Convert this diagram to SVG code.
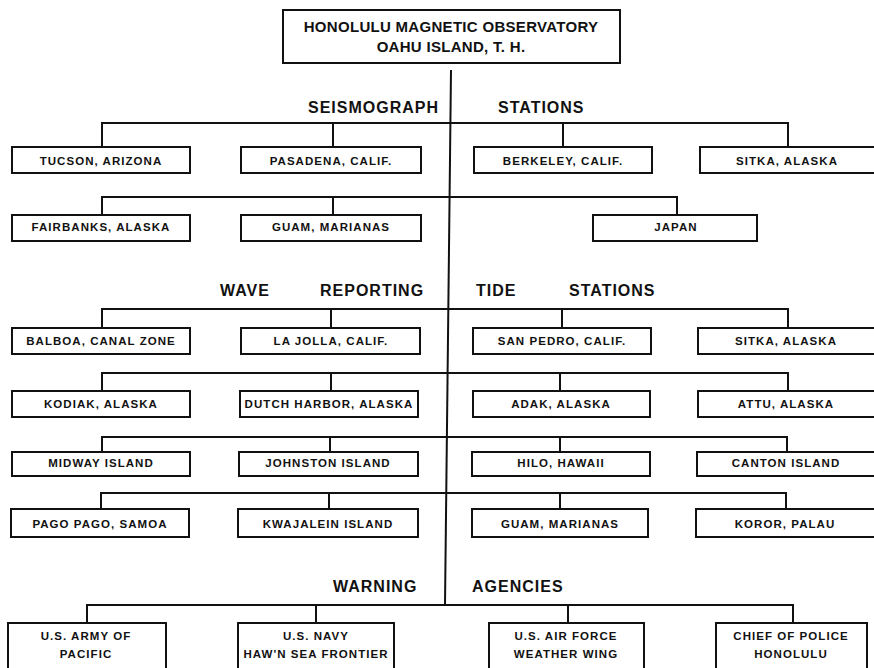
<svg xmlns="http://www.w3.org/2000/svg" width="874" height="668" viewBox="0 0 874 668">
<style>
.b{fill:#fff;stroke:#111;stroke-width:2}
.t{font-family:"Liberation Sans",Arial,sans-serif;font-weight:bold;font-size:11.5px;letter-spacing:1.05px;fill:#111;text-anchor:middle}
.h{font-family:"Liberation Sans",Arial,sans-serif;font-weight:bold;font-size:16px;letter-spacing:1px;fill:#111}
.top{font-family:"Liberation Sans",Arial,sans-serif;font-weight:bold;font-size:15px;letter-spacing:0.3px;fill:#111;text-anchor:middle}
.c{fill:none;stroke:#111;stroke-width:2}
</style>
<rect width="874" height="668" fill="#fff"/>
<g id="connectors" class="c">
<path d="M451 70 L445 605"/>
<path d="M102 147 V123 H788 V147 M333 123 V147 M563 123 V147"/>
<path d="M102 215 V197 H677 V215 M333 197 V215"/>
<path d="M102 328 V309 H788 V328 M331 309 V328 M562 309 V328"/>
<path d="M102 391 V373 H788 V391 M331 373 V391 M560 373 V391"/>
<path d="M102 452 V437 H787 V452 M330 437 V452 M560 437 V452"/>
<path d="M101 509 V493 H786 V509 M329 493 V509 M560 493 V509"/>
<path d="M87 623 V605 H793 V623 M316 605 V623 M568 605 V623"/>
</g>
<g id="headings">
<text class="h" x="308" y="113">SEISMOGRAPH</text>
<text class="h" x="498" y="113">STATIONS</text>
<text class="h" x="220" y="296">WAVE</text>
<text class="h" x="320" y="296">REPORTING</text>
<text class="h" x="476" y="296">TIDE</text>
<text class="h" x="569" y="296">STATIONS</text>
<text class="h" x="333" y="592">WARNING</text>
<text class="h" x="472" y="592">AGENCIES</text>
</g>
<g id="observatory"><rect class="b" x="283" y="10" width="337" height="53"/><text class="top" x="451" y="32">HONOLULU MAGNETIC OBSERVATORY</text><text class="top" x="451" y="52">OAHU ISLAND, T. H.</text></g>
<g id="tucson"><rect class="b" x="12" y="147" width="178" height="26"/><text class="t" x="101" y="165">TUCSON, ARIZONA</text></g>
<g id="pasadena"><rect class="b" x="241" y="147" width="180" height="26"/><text class="t" x="331" y="165">PASADENA, CALIF.</text></g>
<g id="berkeley"><rect class="b" x="474" y="147" width="178" height="26"/><text class="t" x="563" y="165">BERKELEY, CALIF.</text></g>
<g id="sitka1"><rect class="b" x="700" y="147" width="178" height="26"/><text class="t" x="787" y="165">SITKA, ALASKA</text></g>
<g id="fairbanks"><rect class="b" x="12" y="215" width="178" height="26"/><text class="t" x="101" y="231">FAIRBANKS, ALASKA</text></g>
<g id="guam1"><rect class="b" x="241" y="215" width="180" height="26"/><text class="t" x="331" y="231">GUAM, MARIANAS</text></g>
<g id="japan"><rect class="b" x="593" y="215" width="164" height="26"/><text class="t" x="676" y="231">JAPAN</text></g>
<g id="balboa"><rect class="b" x="12" y="328" width="178" height="26"/><text class="t" x="101" y="345">BALBOA, CANAL ZONE</text></g>
<g id="lajolla"><rect class="b" x="241" y="328" width="179" height="26"/><text class="t" x="331" y="345">LA JOLLA, CALIF.</text></g>
<g id="sanpedro"><rect class="b" x="473" y="328" width="178" height="26"/><text class="t" x="562" y="345">SAN PEDRO, CALIF.</text></g>
<g id="sitka2"><rect class="b" x="698" y="328" width="180" height="26"/><text class="t" x="786" y="345">SITKA, ALASKA</text></g>
<g id="kodiak"><rect class="b" x="12" y="391" width="178" height="26"/><text class="t" x="101" y="408">KODIAK, ALASKA</text></g>
<g id="dutchharbor"><rect class="b" x="240" y="391" width="178" height="26"/><text class="t" x="329" y="408">DUTCH HARBOR, ALASKA</text></g>
<g id="adak"><rect class="b" x="473" y="391" width="177" height="26"/><text class="t" x="561" y="408">ADAK, ALASKA</text></g>
<g id="attu"><rect class="b" x="698" y="391" width="180" height="26"/><text class="t" x="786" y="408">ATTU, ALASKA</text></g>
<g id="midway"><rect class="b" x="12" y="452" width="178" height="24"/><text class="t" x="101" y="467">MIDWAY ISLAND</text></g>
<g id="johnston"><rect class="b" x="239" y="452" width="179" height="24"/><text class="t" x="328" y="467">JOHNSTON ISLAND</text></g>
<g id="hilo"><rect class="b" x="472" y="452" width="178" height="24"/><text class="t" x="561" y="467">HILO, HAWAII</text></g>
<g id="canton"><rect class="b" x="697" y="452" width="181" height="24"/><text class="t" x="786" y="467">CANTON ISLAND</text></g>
<g id="pagopago"><rect class="b" x="11" y="509" width="178" height="28"/><text class="t" x="100" y="528">PAGO PAGO, SAMOA</text></g>
<g id="kwajalein"><rect class="b" x="238" y="509" width="180" height="28"/><text class="t" x="328" y="528">KWAJALEIN ISLAND</text></g>
<g id="guam2"><rect class="b" x="472" y="509" width="176" height="28"/><text class="t" x="560" y="528">GUAM, MARIANAS</text></g>
<g id="koror"><rect class="b" x="696" y="509" width="182" height="28"/><text class="t" x="785" y="528">KOROR, PALAU</text></g>
<g id="army"><rect class="b" x="8" y="623" width="158" height="50"/><text class="t" x="86" y="640">U.S. ARMY OF</text><text class="t" x="86" y="658">PACIFIC</text></g>
<g id="navy"><rect class="b" x="238" y="623" width="156" height="50"/><text class="t" x="316" y="640">U.S. NAVY</text><text class="t" x="316" y="658">HAW'N SEA FRONTIER</text></g>
<g id="airforce"><rect class="b" x="489" y="623" width="155" height="50"/><text class="t" x="566" y="640">U.S. AIR FORCE</text><text class="t" x="566" y="658">WEATHER WING</text></g>
<g id="police"><rect class="b" x="716" y="623" width="151" height="50"/><text class="t" x="791" y="640">CHIEF OF POLICE</text><text class="t" x="791" y="658">HONOLULU</text></g>
</svg>
